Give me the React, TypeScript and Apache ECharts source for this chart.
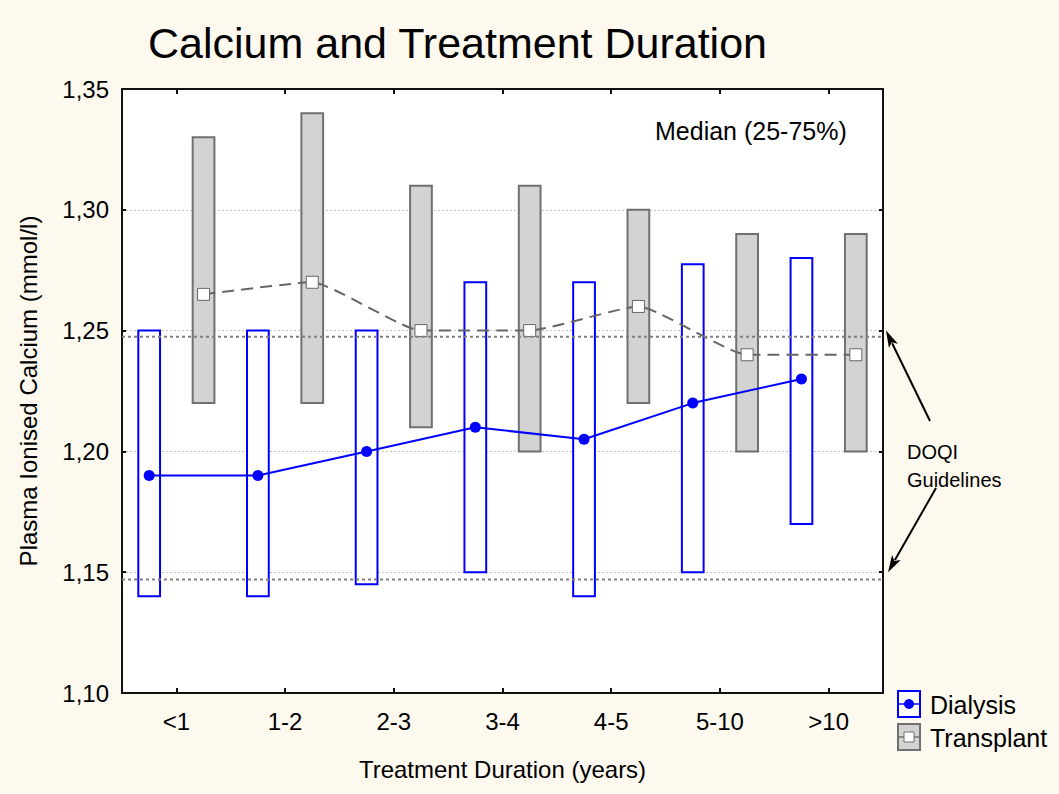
import React, { useEffect, useRef } from 'react';
import * as echarts from 'echarts';

const CATEGORIES = ['<1', '1-2', '2-3', '3-4', '4-5', '5-10', '>10'];
const DIALYSIS_Q1 = [1.14, 1.14, 1.145, 1.15, 1.14, 1.15, 1.17];
const DIALYSIS_Q3 = [1.25, 1.25, 1.25, 1.27, 1.27, 1.2775, 1.28];
const DIALYSIS_MEDIAN = [1.19, 1.19, 1.2, 1.21, 1.205, 1.22, 1.23];
const TRANSPLANT_Q1 = [1.22, 1.22, 1.21, 1.2, 1.22, 1.2, 1.2];
const TRANSPLANT_Q3 = [1.33, 1.34, 1.31, 1.31, 1.3, 1.29, 1.29];
const TRANSPLANT_MEDIAN = [1.265, 1.27, 1.25, 1.25, 1.26, 1.24, 1.24];
const Y_MIN = 1.1;
const Y_MAX = 1.35;
const Y_STEP = 0.05;
const GUIDELINES = [1.2475, 1.147];
const ARROW_TARGETS = [1.25, 1.15];

const FONT = 'Liberation Sans, Arial, sans-serif';
const OFFSET = 0.25;
const BOX_HALF = 0.1;
const X_MIN = -0.5;
const X_MAX = CATEGORIES.length - 0.5;

const boxRender = (fill: string, stroke: string) => (params: any, api: any) => {
  const x = api.value(0);
  const lo = api.value(1);
  const hi = api.value(2);
  const p1 = api.coord([x - BOX_HALF, hi]);
  const p2 = api.coord([x + BOX_HALF, lo]);
  return {
    type: 'rect',
    shape: { x: p1[0], y: p1[1], width: p2[0] - p1[0], height: p2[1] - p1[1] },
    style: { fill, stroke, lineWidth: 2 },
  };
};

function arrow(tail: number[], tip: number[]) {
  const dx = tip[0] - tail[0];
  const dy = tip[1] - tail[1];
  const len = Math.sqrt(dx * dx + dy * dy);
  const ux = dx / len, uy = dy / len;
  const hl = 17, hw = 5;
  const bx = tip[0] - ux * hl, by = tip[1] - uy * hl;
  const nx = -uy, ny = ux;
  return [
    { type: 'line', shape: { x1: tail[0], y1: tail[1], x2: bx + ux * 3, y2: by + uy * 3 }, style: { stroke: '#000', lineWidth: 2 } },
    {
      type: 'polygon',
      shape: { points: [[tip[0], tip[1]], [bx + nx * hw, by + ny * hw], [bx + ux * 4, by + uy * 4], [bx - nx * hw, by - ny * hw]] },
      style: { fill: '#000' },
    },
  ];
}

export default function App() {
  const ref = useRef<HTMLDivElement>(null);
  useEffect(() => {
    if (!ref.current) return;
    const chart = echarts.init(ref.current, null, { renderer: 'svg' });
    const axisLine = { show: true, onZero: false, lineStyle: { color: '#111', width: 2 } };
    const fmt = (v: number) => v.toFixed(2).replace('.', ',');
    const guideSeries = GUIDELINES.map((v, k) => ({
      type: 'line', name: 'DOQI ' + k, xAxisIndex: 2, yAxisIndex: 0, z: 5,
      symbol: 'none', silent: true,
      lineStyle: { color: '#808080', width: 2, type: [3, 3] },
      data: [[X_MIN, v], [X_MAX, v]],
    }));
    const option: any = {
      animation: false,
      backgroundColor: '#FDF9EF',
      grid: { left: 122, right: 176, top: 89, bottom: 101, show: true, backgroundColor: '#fff', borderWidth: 0, outerBoundsMode: 'none' },
      xAxis: [
        {
          type: 'category', data: CATEGORIES, position: 'bottom', boundaryGap: true,
          axisLine, axisTick: { show: true, inside: true, alignWithLabel: true, length: 5, lineStyle: { color: '#111', width: 2 } },
          axisLabel: { color: '#000', fontSize: 24, fontFamily: FONT, margin: 16 },
          name: 'Treatment Duration (years)', nameLocation: 'middle', nameGap: 64,
          nameTextStyle: { color: '#000', fontSize: 24, fontFamily: FONT },
        },
        {
          type: 'category', data: CATEGORIES, position: 'top', boundaryGap: true,
          axisLine, axisTick: { show: true, inside: true, alignWithLabel: true, length: 5, lineStyle: { color: '#111', width: 2 } },
          axisLabel: { show: false },
        },
        { type: 'value', show: false, min: X_MIN, max: X_MAX, position: 'bottom' },
      ],
      yAxis: [
        {
          type: 'value', min: Y_MIN, max: Y_MAX, interval: Y_STEP, position: 'left',
          axisLine, axisTick: { show: true, inside: true, length: 4, lineStyle: { color: '#111', width: 2 } },
          axisLabel: { color: '#000', fontSize: 24, fontFamily: FONT, margin: 13, formatter: fmt },
          splitLine: { show: true, lineStyle: { color: '#c4c4c4', width: 1, type: [2, 2] } },
          name: 'Plasma Ionised Calcium (mmol/l)', nameLocation: 'middle', nameGap: 82,
          nameTextStyle: { color: '#000', fontSize: 24, fontFamily: FONT },
        },
        {
          type: 'value', min: Y_MIN, max: Y_MAX, interval: Y_STEP, position: 'right',
          axisLine, axisTick: { show: true, inside: true, length: 4, lineStyle: { color: '#111', width: 2 } },
          axisLabel: { show: false }, splitLine: { show: false },
        },
      ],
      series: [
        {
          type: 'custom', name: 'Transplant IQR', xAxisIndex: 2, yAxisIndex: 0, z: 2,
          renderItem: boxRender('#D3D3D3', '#707070'),
          encode: { x: 0, y: [1, 2] },
          data: CATEGORIES.map((_, i) => [i + OFFSET, TRANSPLANT_Q1[i], TRANSPLANT_Q3[i]]),
        },
        {
          type: 'custom', name: 'Dialysis IQR', xAxisIndex: 2, yAxisIndex: 0, z: 2,
          renderItem: boxRender('#ffffff', '#0000FF'),
          encode: { x: 0, y: [1, 2] },
          data: CATEGORIES.map((_, i) => [i - OFFSET, DIALYSIS_Q1[i], DIALYSIS_Q3[i]]),
        },
        {
          type: 'line', name: 'Transplant', xAxisIndex: 2, yAxisIndex: 0, z: 3,
          smooth: 0.15, symbol: 'rect', symbolSize: 12,
          itemStyle: { color: '#ffffff', borderColor: '#666', borderWidth: 1 },
          lineStyle: { color: '#666', width: 2, type: [12, 7] },
          data: CATEGORIES.map((_, i) => [i + OFFSET, TRANSPLANT_MEDIAN[i]]),
        },
        {
          type: 'line', name: 'Dialysis', xAxisIndex: 2, yAxisIndex: 0, z: 4,
          symbol: 'circle', symbolSize: 11,
          itemStyle: { color: '#0000FF' },
          lineStyle: { color: '#0000FF', width: 2 },
          data: CATEGORIES.map((_, i) => [i - OFFSET, DIALYSIS_MEDIAN[i]]),
        },
        ...guideSeries,
      ],
    };
    chart.setOption(option);

    const yPix = (v: number) => chart.convertToPixel({ yAxisIndex: 0 }, v) as number;
    const legendX = 898;
    const graphic: any[] = [
      { type: 'text', x: 148, y: 21, style: { text: 'Calcium and Treatment Duration', font: `43px ${FONT}`, fill: '#000' } },
      { type: 'text', x: 655, y: 131, style: { text: 'Median (25-75%)', font: `25px ${FONT}`, fill: '#000', textVerticalAlign: 'middle' } },
      { type: 'text', x: 907, y: 452, style: { text: 'DOQI', font: `20px ${FONT}`, fill: '#000', textVerticalAlign: 'middle' } },
      { type: 'text', x: 907, y: 480, style: { text: 'Guidelines', font: `20px ${FONT}`, fill: '#000', textVerticalAlign: 'middle' } },
      ...arrow([930, 421], [886, yPix(ARROW_TARGETS[0])]),
      ...arrow([936, 488], [888, yPix(ARROW_TARGETS[1])]),
      { type: 'rect', shape: { x: legendX, y: 691, width: 22, height: 26 }, style: { fill: '#fff', stroke: '#0000FF', lineWidth: 2 } },
      { type: 'line', shape: { x1: legendX, y1: 704, x2: legendX + 22, y2: 704 }, style: { stroke: '#0000FF', lineWidth: 1.5 } },
      { type: 'circle', shape: { cx: legendX + 11, cy: 704, r: 5 }, style: { fill: '#0000FF' } },
      { type: 'text', x: 930, y: 705, style: { text: 'Dialysis', font: `25px ${FONT}`, fill: '#000', textVerticalAlign: 'middle' } },
      { type: 'rect', shape: { x: legendX, y: 724, width: 22, height: 26 }, style: { fill: '#D3D3D3', stroke: '#707070', lineWidth: 2 } },
      { type: 'line', shape: { x1: legendX, y1: 737, x2: legendX + 22, y2: 737 }, style: { stroke: '#707070', lineWidth: 1.5 } },
      { type: 'rect', shape: { x: legendX + 6, y: 732, width: 10, height: 10 }, style: { fill: '#fff', stroke: '#707070', lineWidth: 1 } },
      { type: 'text', x: 930, y: 738, style: { text: 'Transplant', font: `25px ${FONT}`, fill: '#000', textVerticalAlign: 'middle' } },
    ];
    chart.setOption({ graphic });
    return () => chart.dispose();
  }, []);
  return <div ref={ref} style={{ position: 'fixed', left: 0, top: 0, width: 1059, height: 794 }} />;
}
